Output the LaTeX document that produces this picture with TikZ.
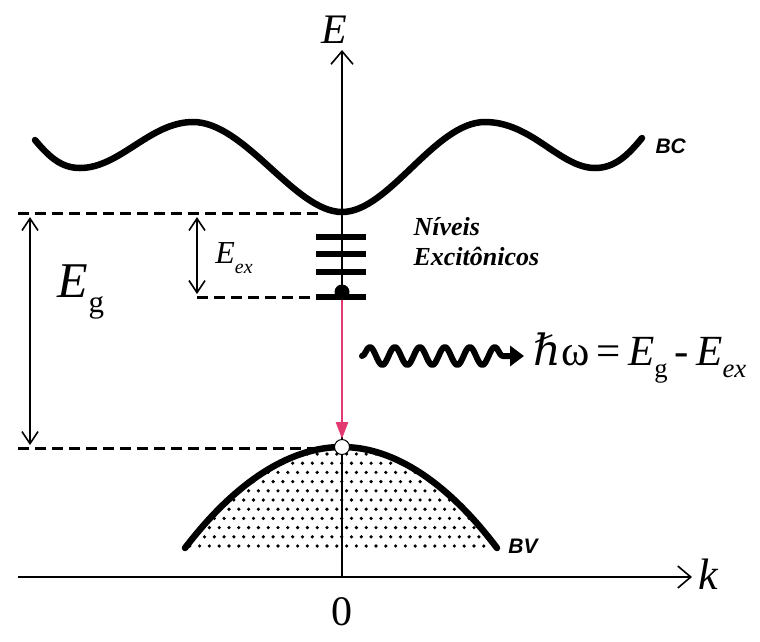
\documentclass[tikz,border=0pt]{standalone}
\usepackage{fontspec}
\usepackage{graphicx}
\setmainfont{Liberation Serif}
\newfontfamily\labfont{Liberation Sans}
\newfontfamily\dvserif{DejaVu Serif}
\usetikzlibrary{arrows.meta,decorations.pathmorphing}
\definecolor{exred}{HTML}{E23A70}
\newcommand\lowsub[1]{\raisebox{-0.3em}{\scalebox{0.62}{#1}}}
\begin{document}
\begin{tikzpicture}[x=1pt,y=-1pt,
  band/.style={line width=6.5pt, line cap=round, line join=round},
  dashline/.style={line width=3pt, dash pattern=on 11pt off 6pt},
  axisline/.style={line width=1.6pt},
  barb/.style={-{Straight Barb[length=13pt,width=22pt,line width=1.6pt]}},
  dbl/.style={{Straight Barb[length=12pt,width=16pt,line width=1.6pt]}-{Straight Barb[length=12pt,width=16pt,line width=1.6pt]}, line width=1.6pt},
  level/.style={line width=5.5pt},
  bandlab/.style={font=\labfont\fontsize{21}{21}\selectfont\bfseries\itshape},
]
\useasboundingbox (0,0) rectangle (760,641);

% axes
\coordinate (O) at (342,577);
\coordinate (Etop) at (342,50);
\coordinate (kstart) at (18,577);
\coordinate (kend) at (692,577);
\draw[axisline,barb] (O) -- (Etop);
\draw[line width=2.2pt,barb] (kstart) -- (kend);
\node[font=\fontsize{42}{42}\selectfont\itshape] (elab) at (334,30) {E};
\node[font=\fontsize{44}{44}\selectfont\itshape] (klab) at (708,574) {k};
\node[font=\fontsize{42}{42}\selectfont] (zero) at (342,612) {0};

% conduction band
\draw[band] (35,140) .. controls (50,158) and (62,168) .. (80,168)
  .. controls (120,168) and (150,122) .. (193,122)
  .. controls (245,122) and (295,212) .. (342,212)
  .. controls (389,212) and (435,122) .. (485,122)
  .. controls (532,122) and (560,168) .. (595,168)
  .. controls (615,168) and (628,155) .. (642,138);
\node[bandlab, anchor=west] (bc) at (652,146) {BC};

% valence band with dots
\begin{scope}
  \clip (185,548) parabola bend (342,447) (497,548) -- cycle;
  \foreach \j in {0,...,11} {
    \foreach \i in {0,...,33} {
      \pgfmathsetmacro{\xx}{180+\i*9.8+mod(\j,2)*4.9}
      \pgfmathsetmacro{\yy}{546-\j*9.2}
      \fill (\xx,\yy) circle (1.8);
    }
  }
\end{scope}
\draw[band] (185,548) parabola bend (342,447) (497,548);
\node[bandlab] (bv) at (523,546) {BV};

% dashed reference lines
\coordinate (dtA) at (18,213);
\coordinate (dtB) at (322,213);
\draw[dashline] (dtA) -- (dtB);
\coordinate (dmA) at (197,297);
\coordinate (dmB) at (312,297);
\draw[dashline] (dmA) -- (dmB);
\coordinate (dbA) at (18,448);
\coordinate (dbB) at (332,448);
\draw[dashline] (dbA) -- (dbB);

% energy arrows
\coordinate (egT) at (30,217);
\coordinate (egB) at (30,445);
\draw[dbl] (egT) -- (egB);
\node[font=\fontsize{50}{50}\selectfont] (eg) at (81,292) {\textit{E}\lowsub{g}};
\coordinate (exT) at (197,217);
\coordinate (exB) at (197,294);
\draw[dbl] (exT) -- (exB);
\node[font=\fontsize{32}{32}\selectfont] (eex) at (234,258) {\textit{E}\lowsub{\textit{ex}}};

% exciton levels
\foreach \yy in {237,254,272,297} \draw[level] (316,\yy) -- (366,\yy);
\node[anchor=west, align=left, font=\fontsize{26}{30}\selectfont\bfseries\itshape] (niv) at (410,242) {Níveis\\Excitônicos};

% exciton and hole
\node[circle, fill=black, inner sep=0pt, minimum size=15pt] (ex) at (342,292) {};
\node[circle, draw=black, line width=1pt, fill=white, inner sep=0pt, minimum size=15pt] (hole) at (342,447) {};
\draw[line width=2.8pt, exred, -{Triangle[length=17pt,width=12pt]}] (ex) -- (hole);

% photon
\coordinate (wa) at (362,356);
\coordinate (wb) at (524,356);
\draw[line width=6pt, line join=round, line cap=round, decorate,
  decoration={snake, amplitude=9pt, segment length=25pt, post length=12pt},
  -{Triangle[length=14pt,width=20pt]}] (wa) -- (wb);
\node[anchor=west, font=\fontsize{43}{43}\selectfont] (formula) at (530,358)
  {{\dvserif\itshape ℏ}ω\,=\,\textit{E}\lowsub{g}\,-\,\textit{E}\lowsub{\textit{ex}}};
\end{tikzpicture}
\end{document}
